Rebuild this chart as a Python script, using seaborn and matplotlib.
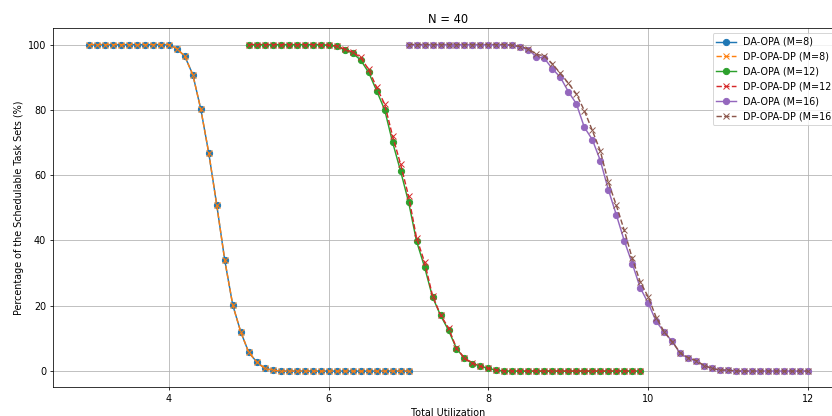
import numpy as np
import pandas as pd
import matplotlib
matplotlib.use("Agg")
import matplotlib.pyplot as plt
import seaborn as sns

# M=8: utilization 3.0 .. 7.0
x_m8 = [round(3.0 + 0.1 * i, 1) for i in range(41)]
da_m8 = [100]*11 + [98.8, 96.4, 90.8, 80.2, 66.7, 50.8, 33.9, 20.2, 12.0, 5.7, 2.8, 0.8, 0.3] + [0]*17
dp_m8 = [100]*11 + [98.8, 96.4, 90.8, 80.2, 66.7, 50.8, 33.9, 20.2, 12.0, 5.7, 2.8, 0.8, 0.3] + [0]*17

# M=12: utilization 5.0 .. 9.9
x_m12 = [round(5.0 + 0.1 * i, 1) for i in range(50)]
da_m12 = [100]*10 + [99.8, 99.5, 98.4, 97.4, 95.3, 91.5, 85.9, 80.1, 70.1, 61.3,
                     51.8, 39.8, 31.9, 22.7, 17.1, 12.5, 6.9, 3.9, 2.3, 1.5, 0.8, 0.3] + [0]*18
dp_m12 = [100]*10 + [99.8, 99.6, 98.6, 97.7, 96.1, 92.4, 86.9, 81.8, 72.0, 63.4,
                     53.6, 40.8, 33.4, 23.1, 17.2, 13.2, 7.0, 4.0, 2.4, 1.5, 0.8, 0.3] + [0]*18

# M=16: utilization 7.0 .. 12.0
x_m16 = [round(7.0 + 0.1 * i, 1) for i in range(51)]
da_m16 = [100]*13 + [99.8, 99.2, 98.4, 96.3, 95.8, 92.6, 90.0, 85.6, 81.9, 74.7, 70.9,
                     64.5, 55.6, 47.9, 39.9, 32.9, 25.5, 20.8, 15.2, 11.9, 9.1, 5.4, 3.9,
                     3.1, 1.6, 0.8, 0.3, 0.3] + [0]*10
dp_m16 = [100]*13 + [99.8, 99.4, 98.7, 97.0, 96.6, 94.1, 91.2, 88.2, 84.9, 79.8, 73.7,
                     67.4, 57.9, 50.8, 43.1, 34.5, 27.3, 22.7, 16.4, 12.0, 9.0, 5.6, 4.1,
                     3.2, 1.7, 0.8, 0.3, 0.3] + [0]*10

series = [
    ("DA-OPA (M=8)", x_m8, da_m8, "#1f77b4", "o", "-"),
    ("DP-OPA-DP (M=8)", x_m8, dp_m8, "#ff7f0e", "x", "--"),
    ("DA-OPA (M=12)", x_m12, da_m12, "#2ca02c", "o", "-"),
    ("DP-OPA-DP (M=12)", x_m12, dp_m12, "#d62728", "x", "--"),
    ("DA-OPA (M=16)", x_m16, da_m16, "#9467bd", "o", "-"),
    ("DP-OPA-DP (M=16)", x_m16, dp_m16, "#8c564b", "x", "--"),
]

DPI = 832 / 12
plt.rcParams['font.family'] = ['DejaVu Sans']
fig = plt.figure(figsize=(12, 6), dpi=DPI)
ax = fig.add_axes([53/832, 1 - 387.4/416, (844 - 53)/832, (387.4 - 28.3)/416])

for label, xs, ys, color, marker, ls in series:
    df = pd.DataFrame({"x": xs, "y": ys})
    sns.lineplot(data=df, x="x", y="y", ax=ax, color=color, marker=marker,
                 linestyle=ls, label=label, markersize=6.5, linewidth=1.5,
                 markeredgecolor=color, markeredgewidth=1.0)

ax.set_xlim(2.55, 12.45)
ax.set_ylim(-5, 105)
ax.set_xticks([4, 6, 8, 10, 12])
ax.set_yticks([0, 20, 40, 60, 80, 100])
ax.grid(True)
ax.set_title("N = 40")
ax.set_xlabel("Total Utilization")
ax.set_ylabel("Percentage of the Schedulable Task Sets (%)")
ax.legend(loc="upper right")

fig.savefig("out.png", dpi=DPI)
